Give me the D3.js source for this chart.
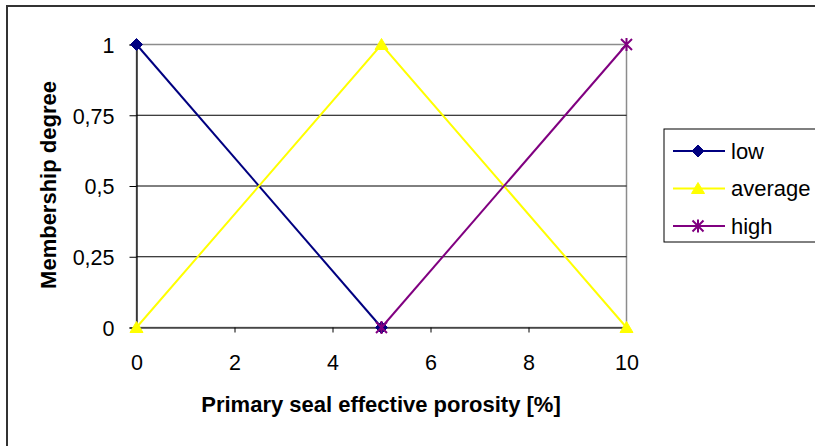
<!DOCTYPE html>
<html>
<head>
<meta charset="utf-8">
<script src="https://cdn.jsdelivr.net/npm/d3@7"></script>
<style>
  html, body { margin: 0; padding: 0; background: #fff; overflow: hidden; }
  svg { display: block; font-family: Arial, "Liberation Sans", sans-serif; }
</style>
</head>
<body>
<svg id="chart" width="815" height="446"></svg>
<script>
// Porosity values [%] and membership degrees of each fuzzy set
const porosity = [0, 5, 10];
const lowValues = [1, 0, null];
const averageValues = [0, 1, 0];
const highValues = [null, 0, 1];
const seriesNames = ["low", "average", "high"];
const xTicks = [0, 2, 4, 6, 8, 10];
const yTicks = [0, 0.25, 0.5, 0.75, 1];
const yTickLabels = ["0", "0,25", "0,5", "0,75", "1"];

const seriesValues = [lowValues, averageValues, highValues];
const colors = ["#000080", "#FFFF00", "#800080"];
const markers = ["diamond", "triangle", "asterisk"];

const svg = d3.select("#chart");
const plot = { left: 136.5, right: 626.5, top: 44.5, bottom: 327.5 };

const x = d3.scaleLinear().domain([0, 10]).range([plot.left, plot.right]);
const y = d3.scaleLinear().domain([0, 1]).range([plot.bottom, plot.top]);

// Chart frame
svg.append("rect")
  .attr("x", 7).attr("y", 6)
  .attr("width", 830).attr("height", 460)
  .attr("fill", "#fff").attr("stroke", "#333").attr("stroke-width", 2);

// Plot area border
svg.append("rect")
  .attr("x", plot.left).attr("y", plot.top)
  .attr("width", plot.right - plot.left).attr("height", plot.bottom - plot.top)
  .attr("fill", "#fff").attr("stroke", "#8c8c8c").attr("stroke-width", 1.5);

// Horizontal gridlines
svg.append("g").selectAll("line")
  .data(yTicks.filter(t => t > 0 && t < 1))
  .join("line")
  .attr("x1", plot.left).attr("x2", plot.right)
  .attr("y1", d => y(d)).attr("y2", d => y(d))
  .attr("stroke", "#000").attr("stroke-width", 1);

// Y axis
const yAxis = svg.append("g")
  .attr("transform", `translate(${plot.left},0)`)
  .call(d3.axisLeft(y).tickValues(yTicks)
    .tickFormat((d, i) => yTickLabels[i]).tickSize(7).tickPadding(15));
yAxis.select(".domain").attr("stroke", "#000").attr("stroke-width", 1.2);
yAxis.selectAll(".tick line").attr("stroke", "#000");
yAxis.selectAll(".tick text")
  .attr("font-size", 21.5).attr("font-family", "Arial, 'Liberation Sans', sans-serif")
  .attr("fill", "#000").attr("dy", "0.36em");

// X axis
const xAxis = svg.append("g")
  .attr("transform", `translate(0,${plot.bottom})`)
  .call(d3.axisBottom(x).tickValues(xTicks).tickSize(5).tickPadding(22));
xAxis.select(".domain").attr("stroke", "#000").attr("stroke-width", 1.2);
xAxis.selectAll(".tick line").attr("stroke", "#000");
xAxis.selectAll(".tick text")
  .attr("font-size", 21.5).attr("font-family", "Arial, 'Liberation Sans', sans-serif")
  .attr("fill", "#000");

// Axis titles
svg.append("text")
  .attr("x", 381).attr("y", 412)
  .attr("text-anchor", "middle")
  .attr("font-size", 22).attr("font-weight", "bold")
  .text("Primary seal effective porosity [%]");

svg.append("text")
  .attr("transform", "translate(56,185) rotate(-90)")
  .attr("text-anchor", "middle")
  .attr("font-size", 22).attr("font-weight", "bold")
  .text("Membership degree");

// Marker shapes
function drawMarker(g, type, color, cx, cy) {
  if (type === "diamond") {
    g.append("path")
      .attr("d", `M${cx},${cy - 6}L${cx + 6},${cy}L${cx},${cy + 6}L${cx - 6},${cy}Z`)
      .attr("fill", color).attr("stroke", color).attr("stroke-width", 1);
  } else if (type === "triangle") {
    g.append("path")
      .attr("d", `M${cx},${cy - 6}L${cx + 6.5},${cy + 5}L${cx - 6.5},${cy + 5}Z`)
      .attr("fill", color).attr("stroke", color).attr("stroke-width", 1);
  } else {
    const r = 5.5;
    g.append("path")
      .attr("d", `M${cx - r},${cy - r}L${cx + r},${cy + r}M${cx - r},${cy + r}L${cx + r},${cy - r}M${cx},${cy - r - 1}L${cx},${cy + r + 1}`)
      .attr("fill", "none").attr("stroke", color).attr("stroke-width", 2);
  }
}

// Series lines and markers
const line = d3.line()
  .defined(d => d.v !== null)
  .x(d => x(d.p)).y(d => y(d.v));

seriesValues.forEach((vals, si) => {
  const pts = porosity.map((p, i) => ({ p, v: vals[i] }));
  const g = svg.append("g");
  g.append("path")
    .datum(pts)
    .attr("d", line)
    .attr("fill", "none")
    .attr("stroke", colors[si]).attr("stroke-width", 2);
  pts.filter(d => d.v !== null).forEach(d =>
    drawMarker(g, markers[si], colors[si], x(d.p), y(d.v)));
});

// Legend
const legend = svg.append("g");
legend.append("rect")
  .attr("x", 664).attr("y", 129).attr("width", 170).attr("height", 113)
  .attr("fill", "#fff").attr("stroke", "#000").attr("stroke-width", 1);

const legendY = [151, 188.5, 226];
seriesNames.forEach((name, i) => {
  const ly = legendY[i];
  legend.append("line")
    .attr("x1", 673).attr("x2", 725).attr("y1", ly).attr("y2", ly)
    .attr("stroke", colors[i]).attr("stroke-width", 2);
  drawMarker(legend, markers[i], colors[i], 698, ly);
  legend.append("text")
    .attr("x", 731).attr("y", ly + 7.5)
    .attr("font-size", 22)
    .text(name);
});
</script>
</body>
</html>
